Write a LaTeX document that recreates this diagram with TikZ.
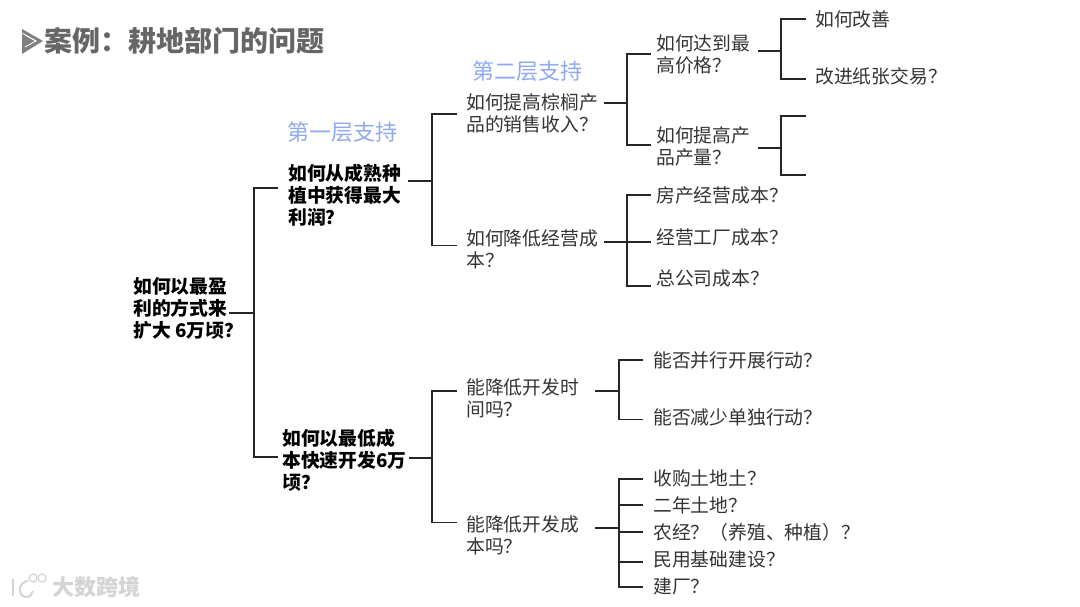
\documentclass[tikz,border=0pt]{standalone}
\usepackage{fontspec}
\setmainfont{Noto Sans CJK SC}
\usepackage{xcolor}
\usepackage{tikz}
\usetikzlibrary{positioning,calc}
\definecolor{casetitle}{HTML}{666666}
\definecolor{caselayer}{HTML}{8FA9EE}
\definecolor{casetext}{HTML}{333333}
\definecolor{casemark}{HTML}{D4D4D4}
\tikzset{
  ogbold/.style={anchor=west, align=left, inner xsep=10pt, inner ysep=0pt, text=black, font=\fontsize{18.8}{22}\selectfont\bfseries},
  ogplain/.style={anchor=west, align=left, inner xsep=9pt, inner ysep=0pt, text=casetext, font=\fontsize{18.8}{22}\selectfont},
  oglayer/.style={anchor=west, inner sep=0pt, text=caselayer, font=\fontsize{22}{26}\selectfont},
  ogline/.style={line width=1.1pt, draw=black!85}
}
\begin{document}
\begin{tikzpicture}[x=1pt,y=-1pt]
  \useasboundingbox (0,0) rectangle (1080,607);
  % title
  \fill[gray] (22,29) -- (43,41) -- (22,54) -- cycle;
  \draw[white, line width=0.8pt] (25,35) -- (36,41) -- (25,47);
  \draw[white, line width=0.8pt] (22,33) -- (36,41);
  \node[anchor=west, inner sep=0pt, text=casetitle, font=\fontsize{28}{32}\selectfont\bfseries] (title) at (44,41) {案例：耕地部门的问题};
  \node[oglayer] (layerone) at (287.5,132) {第一层支持};
  \node[oglayer] (layertwo) at (472.5,71) {第二层支持};
  % first levels
  \node[ogbold] (root) at (123,308) {如何以最盈\\利的方式来\\扩大 6万顷？};
  \node[ogbold] (profit) at (278,195) {如何从成熟种\\植中获得最大\\利润？};
  \node[ogbold] (lowcost) at (272,460) {如何以最低成\\本快速开发6万\\顷？};
  % second level
  \node[ogplain] (sales) at (457,113) {如何提高棕榈产\\品的销售收入？};
  \node[ogplain] (opcost) at (457,249) {如何降低经营成\\本？};
  \node[ogplain] (devtime) at (457,398) {能降低开发时\\间吗？};
  \node[ogplain] (devcost) at (457,535) {能降低开发成\\本吗？};
  % third level
  \node[ogplain] (price) at (647,54) {如何达到最\\高价格？};
  \node[ogplain] (output) at (647,146) {如何提高产\\品产量？};
  \node[ogplain] (house) at (647,195) {房产经营成本？};
  \node[ogplain] (plant) at (647,237) {经营工厂成本？};
  \node[ogplain] (office) at (647,278) {总公司成本？};
  \node[ogplain] (parallel) at (644,360) {能否并行开展行动？};
  \node[ogplain] (single) at (644,417) {能否减少单独行动？};
  \node[ogplain] (buyland) at (644,478) {收购土地土？};
  \node[ogplain] (yearland) at (644,505) {二年土地？};
  \node[ogplain] (farm) at (644,532) {农经？（养殖、种植）？};
  \node[ogplain] (civil) at (644,559) {民用基础建设？};
  \node[ogplain] (factory) at (644,586) {建厂？};
  % fourth level
  \node[ogplain] (improve) at (806,19) {如何改善};
  \node[ogplain] (paper) at (806,76) {改进纸张交易？};
  % junctions
  \coordinate (jroot) at (254,313);
  \coordinate (jprofit) at (432,181);
  \coordinate (jlow) at (432,458);
  \coordinate (jsales) at (627,103);
  \coordinate (jop) at (627,242);
  \coordinate (jtime) at (619,391);
  \coordinate (jcost) at (619,528);
  \coordinate (jprice) at (781,51);
  \coordinate (joutput) at (781,148);
  \coordinate (emptyup) at (806,116);
  \coordinate (emptydown) at (806,175);
  % root
  \draw[ogline] ([xshift=-24pt]root.east |- jroot) -- (jroot);
  \draw[ogline] ([yshift=7pt]profit.west) -| (jroot);
  \draw[ogline] ([xshift=6pt,yshift=3pt]lowcost.west) -| (jroot);
  % upper half
  \draw[ogline] ([xshift=-3pt]profit.east |- jprofit) -- (jprofit);
  \draw[ogline] ([yshift=-1pt]sales.west) -| (jprofit);
  \draw[ogline] ([yshift=3.5pt]opcost.west) -| (jprofit);
  \draw[ogline] ([xshift=-3.5pt]sales.east |- jsales) -- (jsales);
  \draw[ogline] ([xshift=4pt]price.west) -| (jsales);
  \draw[ogline] ([xshift=4pt,yshift=1pt]output.west) -| (jsales);
  \draw[ogline] ([xshift=-3.5pt]opcost.east |- jop) -- (jop);
  \draw[ogline] ([xshift=4pt]house.west) -| (jop);
  \draw[ogline] ([xshift=4pt]plant.west |- jop) -- (jop);
  \draw[ogline] ([xshift=4pt,yshift=-8pt]office.west) -| (jop);
  \draw[ogline] ([xshift=-1.5pt,yshift=3pt]price.east) -| (jprice);
  \draw[ogline] (improve.west) -| (jprice);
  \draw[ogline] ([yshift=-3pt]paper.west) -| (jprice);
  \draw[ogline] ([xshift=-1.5pt]output.east |- joutput) -- (joutput);
  \draw[ogline] (emptyup) -| (joutput);
  \draw[ogline] (emptydown) -| (joutput);
  % lower half
  \draw[ogline] ([xshift=-8pt]lowcost.east |- jlow) -- (jlow);
  \draw[ogline] ([yshift=7pt]devtime.west) -| (jlow);
  \draw[ogline] ([yshift=12.5pt]devcost.west) -| (jlow);
  \draw[ogline] ([xshift=7pt]devtime.east |- jtime) -- (jtime);
  \draw[ogline] ([xshift=-1pt]parallel.west) -| (jtime);
  \draw[ogline] ([xshift=-1pt,yshift=-2.5pt]single.west) -| (jtime);
  \draw[ogline] ([xshift=7pt]devcost.east |- jcost) -- (jcost);
  \draw[ogline] ([xshift=-1pt,yshift=-1pt]buyland.west) -| (jcost);
  \draw[ogline] ([xshift=-1pt]yearland.west) -| (jcost);
  \draw[ogline] ([xshift=-1pt]farm.west) -| (jcost);
  \draw[ogline] ([xshift=-1pt,yshift=-3pt]civil.west) -| (jcost);
  \draw[ogline] ([xshift=-1pt,yshift=-1pt]factory.west) -| (jcost);
  % watermark
  \draw[casemark, line width=2pt] (13,579) -- (13,596);
  \draw[casemark, line width=2pt] (28,581) .. controls (18,582) and (17,596) .. (26,597) .. controls (30,597) and (32,594) .. (33,591);
  \draw[casemark, line width=1.2pt] (33,578) circle (4);
  \draw[casemark, line width=1.2pt] (42,578) circle (4);
  \node[anchor=west, inner sep=0pt, text=casemark, font=\fontsize{22}{26}\selectfont\bfseries] (mark) at (52,587) {大数跨境};
\end{tikzpicture}
\end{document}
